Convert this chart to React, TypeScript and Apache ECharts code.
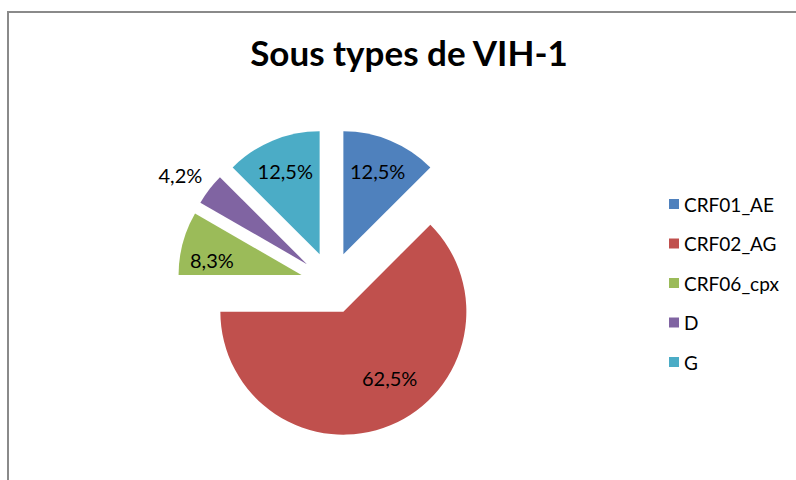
import React, { useEffect, useRef } from 'react';
import * as echarts from 'echarts';

const chartTitle = 'Sous types de VIH-1';
const categories = ['CRF01_AE', 'CRF02_AG', 'CRF06_cpx', 'D', 'G'];
const counts = [3, 15, 2, 1, 3];
const colors = ['#4F81BD', '#C0504D', '#9BBB59', '#8064A2', '#4BACC6'];

export default function App() {
  const ref = useRef<HTMLDivElement>(null);
  useEffect(() => {
    const chart = echarts.init(ref.current as HTMLDivElement, null, { renderer: 'svg' });
    const R = 123;
    const center = [331.5, 283];
    const font = 'Lato, "Open Sans", sans-serif';
    const fmt = (p: any) => p.percent.toFixed(1).replace('.', ',') + '%';
    const labelOffsets: Record<string, number[]> = {
      CRF02_AG: [12, -17],
      CRF06_cpx: [-3, 8],
    };
    const mainData = categories.map((name, i) => ({
      name,
      value: counts[i],
      selected: true,
      itemStyle: { color: colors[i] },
    }));
    const labelData = categories.map((name, i) => {
      const item: any = { name, value: counts[i], selected: true };
      if (name === 'D') {
        item.label = { position: 'outside', distanceToLabelLine: -12 };
        item.labelLine = { show: false, length: 24, length2: 0 };
      }
      return item;
    });
    chart.setOption({
      animation: false,
      backgroundColor: '#ffffff',
      color: colors,
      title: {
        text: chartTitle,
        left: 404,
        top: 29,
        textAlign: 'center',
        textStyle: { fontFamily: font, fontWeight: 'bold', fontSize: 35, color: '#000' },
      },
      legend: {
        orient: 'vertical',
        left: 664,
        top: 189,
        itemWidth: 10,
        itemHeight: 10,
        itemGap: 19.5,
        icon: 'rect',
        data: categories,
        selectedMode: false,
        textStyle: { fontFamily: font, fontSize: 19, color: '#000', lineHeight: 20 },
      },
      graphic: [
        {
          type: 'rect',
          shape: { x: 8, y: 12, width: 820, height: 500 },
          style: { fill: 'none', stroke: '#8a8a8a', lineWidth: 2 },
          silent: true,
        },
      ],
      series: [
        {
          type: 'pie',
          center,
          radius: [0, R],
          startAngle: 90,
          clockwise: true,
          selectedMode: 'multiple',
          selectedOffset: 31,
          silent: true,
          label: { show: false },
          labelLine: { show: false },
          emphasis: { disabled: true },
          data: mainData,
        },
        {
          type: 'pie',
          center,
          radius: [R * 0.41, R],
          startAngle: 90,
          clockwise: true,
          selectedMode: 'multiple',
          selectedOffset: 31,
          silent: true,
          percentPrecision: 1,
          avoidLabelOverlap: false,
          itemStyle: { color: 'rgba(0,0,0,0)' },
          emphasis: { disabled: true },
          label: {
            show: true,
            position: 'inside',
            formatter: fmt,
            fontFamily: font,
            fontSize: 20,
            color: '#000',
          },
          labelLine: { show: false },
          labelLayout: (params: any) => {
            const o = labelOffsets[categories[params.dataIndex]];
            return o ? { dx: o[0], dy: o[1] } : {};
          },
          data: labelData,
        },
      ],
    });
    return () => chart.dispose();
  }, []);
  return <div ref={ref} style={{ position: 'absolute', left: 0, top: 0, width: 796, height: 480 }} />;
}
